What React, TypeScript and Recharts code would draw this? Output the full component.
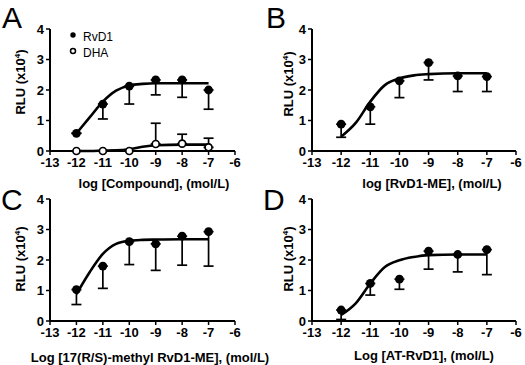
import React from 'react';
import { ComposedChart, Line, Scatter, ErrorBar, XAxis, YAxis } from 'recharts';

// log doses (mol/L) where measurements were taken
const doses = [-12, -11, -10, -9, -8, -7];
const xTicks = [-13, -12, -11, -10, -9, -8, -7, -6];
const yTicks = [0, 1, 2, 3, 4];

// A: RvD1 and DHA
const rvd1Mean = [0.58, 1.54, 2.13, 2.33, 2.33, 2.0];
const rvd1Low = [0.58, 1.05, 1.54, 1.84, 1.76, 1.37];
const dhaMean = [0, 0, 0, 0.23, 0.24, 0.12];
const dhaHigh = [0, 0, 0, 0.91, 0.55, 0.42];

// B: RvD1-ME
const rvd1meMean = [0.88, 1.45, 2.3, 2.9, 2.46, 2.44];
const rvd1meLow = [0.45, 0.88, 1.75, 2.33, 1.95, 1.95];

// C: 17(R/S)-methyl RvD1-ME
const methylMean = [1.03, 1.8, 2.6, 2.53, 2.78, 2.93];
const methylLow = [0.54, 1.07, 1.85, 1.66, 1.83, 1.8];

// D: AT-RvD1
const atMean = [0.36, 1.23, 1.37, 2.29, 2.18, 2.34];
const atLow = [0.05, 0.85, 1.04, 1.7, 1.61, 1.52];

// fitted curves
const curveDose = [-12, -11.5, -11, -10.5, -10, -9.5, -9, -8, -7];
const rvd1Curve = [0.58, 1.1, 1.62, 1.98, 2.15, 2.2, 2.22, 2.22, 2.22];
const dhaCurve = [0, 0, 0.01, 0.02, 0.06, 0.14, 0.19, 0.21, 0.21];
const rvd1meCurve = [0.47, 0.92, 1.62, 2.16, 2.38, 2.48, 2.52, 2.55, 2.55];
const methylCurve = [0.88, 1.6, 2.2, 2.53, 2.63, 2.66, 2.67, 2.68, 2.68];
const atCurve = [0.2, 0.58, 1.23, 1.77, 1.99, 2.1, 2.16, 2.18, 2.18];

const FONT = '"Liberation Sans", Arial, Helvetica, sans-serif';

const pointsDown = (mean: number[], low: number[]) =>
  doses.map((x, i) => ({ x, y: mean[i], err: [mean[i] - low[i], 0] }));
const pointsUp = (mean: number[], high: number[]) =>
  doses.map((x, i) => ({ x, y: mean[i], err: [0, high[i] - mean[i]] }));
const curveRows = (ys: number[]) => curveDose.map((x, i) => ({ x, y: ys[i] }));

const FilledDot = (p: any) => <circle cx={p.cx} cy={p.cy} r={4.4} fill="#000" />;
const OpenDot = (p: any) => (
  <circle cx={p.cx} cy={p.cy} r={3.5} fill="#fff" stroke="#000" strokeWidth={1.7} />
);

type Series = { points: any[]; curve: any[]; open?: boolean };

type PanelProps = {
  left: number;
  top: number;
  width: number;
  height: number;
  margin: { top: number; right: number; bottom: number; left: number };
  series: Series[];
};

const tickStyle = { fill: '#000', fontSize: 13, fontWeight: 700, fontFamily: FONT };

const Panel = (p: PanelProps) => (
  <div style={{ position: 'absolute', left: p.left, top: p.top }}>
    <ComposedChart width={p.width} height={p.height} margin={p.margin}>
      <XAxis
        dataKey="x"
        type="number"
        domain={[-13, -6]}
        ticks={xTicks}
        height={20}
        tickSize={4}
        tickMargin={3}
        axisLine={{ stroke: '#000', strokeWidth: 2 }}
        tickLine={{ stroke: '#000', strokeWidth: 1.5 }}
        tick={tickStyle}
      />
      <YAxis
        dataKey="y"
        type="number"
        domain={[0, 4]}
        ticks={yTicks}
        width={20}
        tickSize={4}
        tickMargin={2}
        axisLine={{ stroke: '#000', strokeWidth: 2 }}
        tickLine={{ stroke: '#000', strokeWidth: 1.5 }}
        tick={tickStyle}
      />
      {p.series.map((s, i) => (
        <Line
          key={'c' + i}
          data={s.curve}
          dataKey="y"
          type="monotone"
          stroke="#000"
          strokeWidth={2.6}
          dot={false}
          activeDot={false}
          isAnimationActive={false}
        />
      ))}
      {p.series.map((s, i) => (
        <Scatter
          key={'s' + i}
          data={s.points}
          dataKey="y"
          shape={s.open ? OpenDot : FilledDot}
          isAnimationActive={false}
        >
          <ErrorBar dataKey="err" direction="y" width={5} stroke="#000" strokeWidth={1.7} />
        </Scatter>
      ))}
    </ComposedChart>
  </div>
);

const YTitle = ({ cx, cy }: { cx: number; cy: number }) => (
  <text
    x={cx}
    y={cy}
    dy={4.5}
    textAnchor="middle"
    transform={`rotate(-90, ${cx}, ${cy})`}
    fontSize={13}
    fontWeight={700}
  >
    RLU (x10
    <tspan fontSize={8} dy={-5}>
      4
    </tspan>
    <tspan dy={5}>)</tspan>
  </text>
);

const topMargin = { top: 29, bottom: 11 };
const bottomMargin = { top: 17, bottom: 24 };

export default function App() {
  return (
    <div
      style={{
        position: 'absolute',
        left: 0,
        top: 0,
        width: 525,
        height: 365,
        background: '#fff',
        overflow: 'hidden',
      }}
    >
      <Panel
        left={0}
        top={0}
        width={262}
        height={182}
        margin={{ ...topMargin, left: 30, right: 27 }}
        series={[
          { points: pointsDown(rvd1Mean, rvd1Low), curve: curveRows(rvd1Curve) },
          { points: pointsUp(dhaMean, dhaHigh), curve: curveRows(dhaCurve), open: true },
        ]}
      />
      <Panel
        left={262}
        top={0}
        width={263}
        height={182}
        margin={{ ...topMargin, left: 30, right: 9 }}
        series={[{ points: pointsDown(rvd1meMean, rvd1meLow), curve: curveRows(rvd1meCurve) }]}
      />
      <Panel
        left={0}
        top={182}
        width={262}
        height={183}
        margin={{ ...bottomMargin, left: 30, right: 27 }}
        series={[{ points: pointsDown(methylMean, methylLow), curve: curveRows(methylCurve) }]}
      />
      <Panel
        left={262}
        top={182}
        width={263}
        height={183}
        margin={{ ...bottomMargin, left: 30, right: 9 }}
        series={[{ points: pointsDown(atMean, atLow), curve: curveRows(atCurve) }]}
      />
      <svg
        width={525}
        height={365}
        style={{ position: 'absolute', left: 0, top: 0, pointerEvents: 'none' }}
        fontFamily={FONT}
        fill="#000"
      >
        {/* panel letters */}
        <text x={2} y={28} fontSize={30}>A</text>
        <text x={266} y={28} fontSize={30}>B</text>
        <text x={1} y={210} fontSize={30}>C</text>
        <text x={263} y={210} fontSize={30}>D</text>

        {/* axis titles */}
        <YTitle cx={20} cy={82} />
        <YTitle cx={288} cy={84} />
        <YTitle cx={20} cy={259} />
        <YTitle cx={288} cy={259} />
        <text x={154} y={188} textAnchor="middle" fontSize={13} fontWeight={700}>
          log [Compound], (mol/L)
        </text>
        <text x={432} y={188} textAnchor="middle" fontSize={13} fontWeight={700}>
          log [RvD1-ME], (mol/L)
        </text>
        <text x={150} y={362} textAnchor="middle" fontSize={13} fontWeight={700}>
          Log [17(R/S)-methyl RvD1-ME], (mol/L)
        </text>
        <text x={424} y={360} textAnchor="middle" fontSize={13} fontWeight={700}>
          Log [AT-RvD1], (mol/L)
        </text>

        {/* legend of panel A */}
        <circle cx={73} cy={35} r={2.7} fill="#000" />
        <text x={83} y={41} fontSize={12}>RvD1</text>
        <circle cx={73} cy={51} r={2.5} fill="#fff" stroke="#000" strokeWidth={1.5} />
        <text x={83} y={57} fontSize={12}>DHA</text>
      </svg>
    </div>
  );
}
